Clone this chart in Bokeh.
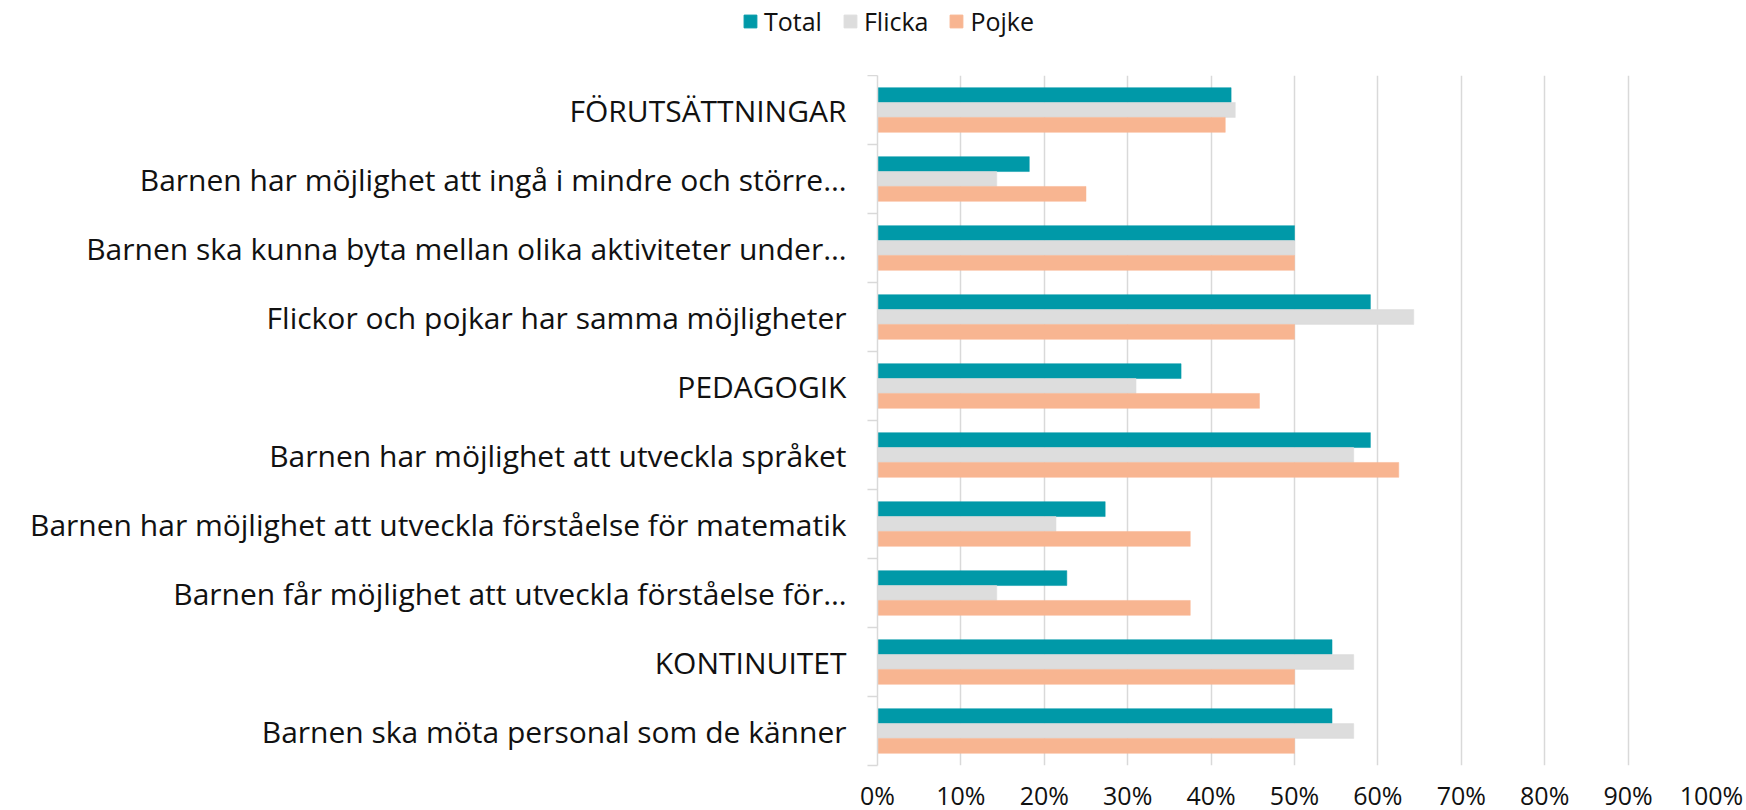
from bokeh.plotting import figure
from bokeh.layouts import column, row
from bokeh.models import (ColumnDataSource, FixedTicker, NumeralTickFormatter,
                          Legend, LegendItem, Range1d)
from bokeh.transform import dodge
from bokeh.embed import file_html
from bokeh.resources import INLINE

categories = [
    "FÖRUTSÄTTNINGAR",
    "Barnen har möjlighet att ingå i mindre och större…",
    "Barnen ska kunna byta mellan olika aktiviteter under…",
    "Flickor och pojkar har samma möjligheter",
    "PEDAGOGIK",
    "Barnen har möjlighet att utveckla språket",
    "Barnen har möjlighet att utveckla förståelse för matematik",
    "Barnen får möjlighet att utveckla förståelse för…",
    "KONTINUITET",
    "Barnen ska möta personal som de känner",
]
total = [42.4, 18.2, 50.0, 59.1, 36.4, 59.1, 27.3, 22.7, 54.5, 54.5]
flicka = [42.9, 14.3, 50.0, 64.3, 31.0, 57.1, 21.4, 14.3, 57.1, 57.1]
pojke = [41.7, 25.0, 50.0, 50.0, 45.8, 62.5, 37.5, 37.5, 50.0, 50.0]
x_ticks = [0, 10, 20, 30, 40, 50, 60, 70, 80, 90, 100]

series_names = ["Total", "Flicka", "Pojke"]
colors = ["#0099A8", "#DDDDDD", "#F8B591"]

n = len(categories)
ypos = [n - 0.5 - i for i in range(n)]
src = ColumnDataSource(dict(
    y=ypos,
    Total=[v / 100 for v in total],
    Flicka=[v / 100 for v in flicka],
    Pojke=[v / 100 for v in pojke],
))

FONT = "Open Sans"
TXT = "#111111"
GRID = "#D9D9D9"
W = 1744

# ---- legend strip on top (its own renderers lie outside its view) ----
LEG_LEFT = 32
lf = figure(width=W - LEG_LEFT, height=75, x_range=Range1d(0, 1), y_range=Range1d(100, 175),
            output_backend="svg", toolbar_location=None,
            x_axis_location=None, y_axis_location=None,
            min_border=0)
lf.outline_line_color = None
lf.xgrid.grid_line_color = None
lf.ygrid.grid_line_color = None
leg_rs = [lf.hbar(y="y", left=0, right=name, height=0.2, fill_color=c, line_color=c,
                  source=src) for name, c in zip(series_names, colors)]
legend = Legend(
    items=[LegendItem(label=nm, renderers=[r]) for nm, r in zip(series_names, leg_rs)],
    orientation="horizontal",
    location="top_center",
    glyph_width=16, glyph_height=16, label_height=26,
    label_standoff=6, spacing=20, padding=0, margin=4,
    label_text_font=FONT, label_text_font_size="25px",
    label_text_color=TXT,
    border_line_color=None, background_fill_alpha=0,
)
lf.add_layout(legend)
top = row(lf, styles={"margin-left": f"{LEG_LEFT}px"})

# ---- main chart ----
p = figure(frame_width=834, frame_height=690,
           x_range=Range1d(0, 1), y_range=Range1d(0, n),
           output_backend="svg", toolbar_location=None,
           min_border_left=877, min_border_top=0, min_border_right=W - 877 - 834,
           min_border_bottom=0)
p.outline_line_color = None

bh = 0.216
offsets = [bh, 0.0, -bh]
for name, col, off in zip(series_names, colors, offsets):
    p.hbar(y=dodge("y", off, range=p.y_range), left=0, right=name,
           height=bh, fill_color=col, line_color=col, line_width=0.5,
           source=src)

# y axis
p.yaxis.ticker = FixedTicker(ticks=ypos, minor_ticks=list(range(n + 1)))
p.yaxis.major_label_overrides = {y: c for y, c in zip(ypos, categories)}
p.yaxis.major_tick_out = 0
p.yaxis.major_tick_in = 0
p.yaxis.minor_tick_out = 10
p.yaxis.minor_tick_in = 0
p.yaxis.minor_tick_line_color = GRID
p.yaxis.minor_tick_line_width = 1.5
p.yaxis.axis_line_color = GRID
p.yaxis.axis_line_width = 1.5
p.yaxis.major_label_standoff = 21
p.yaxis.major_label_text_font = FONT
p.yaxis.major_label_text_font_size = "30px"
p.yaxis.major_label_text_color = TXT

# x axis
p.xaxis.ticker = FixedTicker(ticks=[t / 100 for t in x_ticks])
p.xaxis.formatter = NumeralTickFormatter(format="0%")
p.xaxis.axis_line_color = None
p.xaxis.major_tick_line_color = None
p.xaxis.minor_tick_line_color = None
p.xaxis.major_label_standoff = 6
p.xaxis.major_label_text_font = FONT
p.xaxis.major_label_text_font_size = "25px"
p.xaxis.major_label_text_color = TXT

p.xgrid.ticker = FixedTicker(ticks=[t / 100 for t in x_ticks])
p.xgrid.grid_line_color = GRID
p.xgrid.grid_line_width = 1.5
p.ygrid.grid_line_color = None

layout = column(top, p, spacing=0)
open("out.html", "w").write(file_html(layout, INLINE))
